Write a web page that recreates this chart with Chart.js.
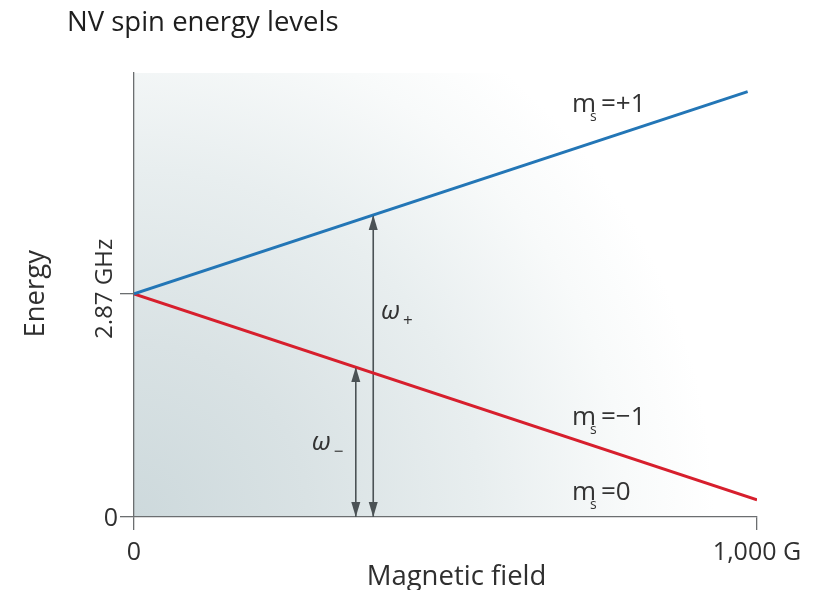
<!DOCTYPE html>
<html><head><meta charset="utf-8">
<script src="https://cdn.jsdelivr.net/npm/chart.js@4.4.0/dist/chart.umd.min.js"></script>
<style>html,body{margin:0;padding:0;background:#fff;}#wrap{width:825px;height:590px;position:relative;}</style>
</head><body><div id="wrap"><canvas id="c" width="825" height="590"></canvas></div>
<script>
// ---- data ----
const chartTitle = 'NV spin energy levels';
const xTitle = 'Magnetic field';
const yTitle = 'Energy';
const xRange = [0, 1000];
const yRange = [0, 5.71];
const xTickValues = [0, 1000];
const xTickLabels = ['0', '1,000 G'];
const yTickValues = [0, 2.87];
const yTickLabels = ['0', '2.87 GHz'];
const msPlusField = [0, 985];
const msPlusEnergy = [2.87, 5.47];
const msMinusField = [0, 1000];
const msMinusEnergy = [2.87, 0.22];
const omegaPlusField = [384, 384];
const omegaPlusEnergy = [0, 3.885];
const omegaMinusField = [356, 356];
const omegaMinusEnergy = [0, 1.93];
// text annotations anchored in data coordinates (field G, energy)
const levelNames = ['m|s|=+1', 'm|s|=\u22121', 'm|s|=0'];
const levelAnchorField = [703, 703, 703];
const levelAnchorEnergy = [5.21, 1.18, 0.22];
const omegaNames = ['\u03c9|+', '\u03c9|\u2212'];
const omegaAnchorField = [398, 287];
const omegaAnchorEnergy = [2.54, 0.86];

const FONT = '"Open Sans", "Noto Sans", sans-serif';
const AX = '#6b6e70';
const TXT = '#2f2f2f';
const ARROW = '#4b5255';

const pts = (xs, ys) => xs.map((x, i) => ({x, y: ys[i]}));

const decor = {
  id: 'decor',
  beforeDraw(chart) {
    const {ctx, chartArea: a} = chart;
    ctx.save();
    const g = ctx.createRadialGradient(a.left, a.bottom, 0, a.left, a.bottom, 580);
    g.addColorStop(0, '#cdd9dc');
    g.addColorStop(0.3, '#d9e2e4');
    g.addColorStop(0.6, '#e8eeef');
    g.addColorStop(0.85, '#f8fafa');
    g.addColorStop(1, '#ffffff');
    ctx.fillStyle = g;
    ctx.fillRect(a.left, a.top, a.right - a.left, a.bottom - a.top);
    ctx.restore();
  },
  afterDatasetsDraw(chart) {
    const {ctx} = chart;
    const xs = chart.scales.x, ys = chart.scales.y;
    ctx.save();
    [2, 3].forEach(di => {
      const m = chart.getDatasetMeta(di).data;
      const p0 = m[0], p1 = m[1];
      const head = (tx, ty, dir) => {
        ctx.beginPath();
        ctx.moveTo(tx, ty);
        ctx.lineTo(tx - 4.5, ty + dir * 15);
        ctx.lineTo(tx + 4.5, ty + dir * 15);
        ctx.closePath();
        ctx.fillStyle = ARROW;
        ctx.fill();
      };
      head(p0.x, p0.y, -1);
      head(p1.x, p1.y, 1);
    });
    // title
    ctx.fillStyle = '#1e1e1e';
    ctx.font = '27.5px ' + FONT;
    ctx.textAlign = 'left';
    ctx.textBaseline = 'alphabetic';
    ctx.fillText(chartTitle, 67, 31);
    // axis tick labels
    ctx.fillStyle = TXT;
    ctx.font = '25px ' + FONT;
    ctx.textAlign = 'center';
    xTickValues.forEach((v, i) => ctx.fillText(xTickLabels[i], xs.getPixelForValue(v), 560));
    ctx.textAlign = 'right';
    ctx.fillText(yTickLabels[0], 118, ys.getPixelForValue(yTickValues[0]) + 9);
    ctx.save();
    ctx.translate(112, ys.getPixelForValue(yTickValues[1]) - 5);
    ctx.rotate(-Math.PI / 2);
    ctx.textAlign = 'center';
    ctx.font = '24px ' + FONT;
    ctx.fillText(yTickLabels[1], 0, 0);
    ctx.restore();
    // axis titles
    ctx.font = '27.5px ' + FONT;
    ctx.textAlign = 'center';
    ctx.fillText(xTitle, (chart.chartArea.left + chart.chartArea.right) / 2 + 11, 585);
    ctx.save();
    ctx.translate(44, ys.getPixelForValue(yTickValues[1]));
    ctx.rotate(-Math.PI / 2);
    ctx.fillText(yTitle, 0, 0);
    ctx.restore();
    // level labels
    ctx.textAlign = 'left';
    levelNames.forEach((s, i) => {
      const [a, b, c] = s.split('|');
      const x = xs.getPixelForValue(levelAnchorField[i]);
      const y = ys.getPixelForValue(levelAnchorEnergy[i]);
      ctx.fillStyle = '#333';
      ctx.font = '26px ' + FONT;
      ctx.fillText(a, x, y);
      ctx.font = '14px ' + FONT;
      ctx.fillText(b, x + 18, y + 9);
      ctx.font = '26px ' + FONT;
      ctx.fillText(c, x + 29, y);
    });
    omegaNames.forEach((s, i) => {
      const [a, b] = s.split('|');
      const x = xs.getPixelForValue(omegaAnchorField[i]);
      const y = ys.getPixelForValue(omegaAnchorEnergy[i]);
      ctx.fillStyle = '#333';
      ctx.font = 'italic 26px ' + FONT;
      ctx.fillText(a, x - 1, y);
      ctx.font = '17px ' + FONT;
      ctx.fillText(b, x + 21, y + 7);
    });
    ctx.restore();
  }
};

new Chart(document.getElementById('c'), {
  type: 'line',
  data: {
    datasets: [
      {label: 'ms=+1', data: pts(msPlusField, msPlusEnergy), borderColor: '#2376b6', borderWidth: 3, pointRadius: 0, tension: 0},
      {label: 'ms=-1', data: pts(msMinusField, msMinusEnergy), borderColor: '#d71f2d', borderWidth: 3, pointRadius: 0, tension: 0},
      {label: 'omega+', data: pts(omegaPlusField, omegaPlusEnergy), borderColor: ARROW, borderWidth: 1.6, pointRadius: 0},
      {label: 'omega-', data: pts(omegaMinusField, omegaMinusEnergy), borderColor: ARROW, borderWidth: 1.6, pointRadius: 0}
    ]
  },
  options: {
    responsive: false,
    animation: false,
    events: [],
    layout: {padding: {left: 0, top: 73, right: 68, bottom: 0}},
    plugins: {legend: {display: false}, title: {display: false}, tooltip: {enabled: false}},
    scales: {
      x: {
        type: 'linear', min: xRange[0], max: xRange[1],
        afterBuildTicks: s => { s.ticks = xTickValues.map(v => ({value: v})); },
        afterFit: s => { s.height = 73; },
        ticks: {display: false},
        grid: {drawOnChartArea: false, drawTicks: true, tickLength: 13, color: AX, lineWidth: 1.3},
        border: {display: true, color: AX, width: 1.3}
      },
      y: {
        type: 'linear', min: yRange[0], max: yRange[1],
        afterBuildTicks: s => { s.ticks = yTickValues.map(v => ({value: v})); },
        afterFit: s => { s.width = 134; },
        ticks: {display: false},
        grid: {drawOnChartArea: false, drawTicks: true, tickLength: 14, color: AX, lineWidth: 1.3},
        border: {display: true, color: AX, width: 1.3}
      }
    }
  },
  plugins: [decor]
});
</script>
</body></html>
